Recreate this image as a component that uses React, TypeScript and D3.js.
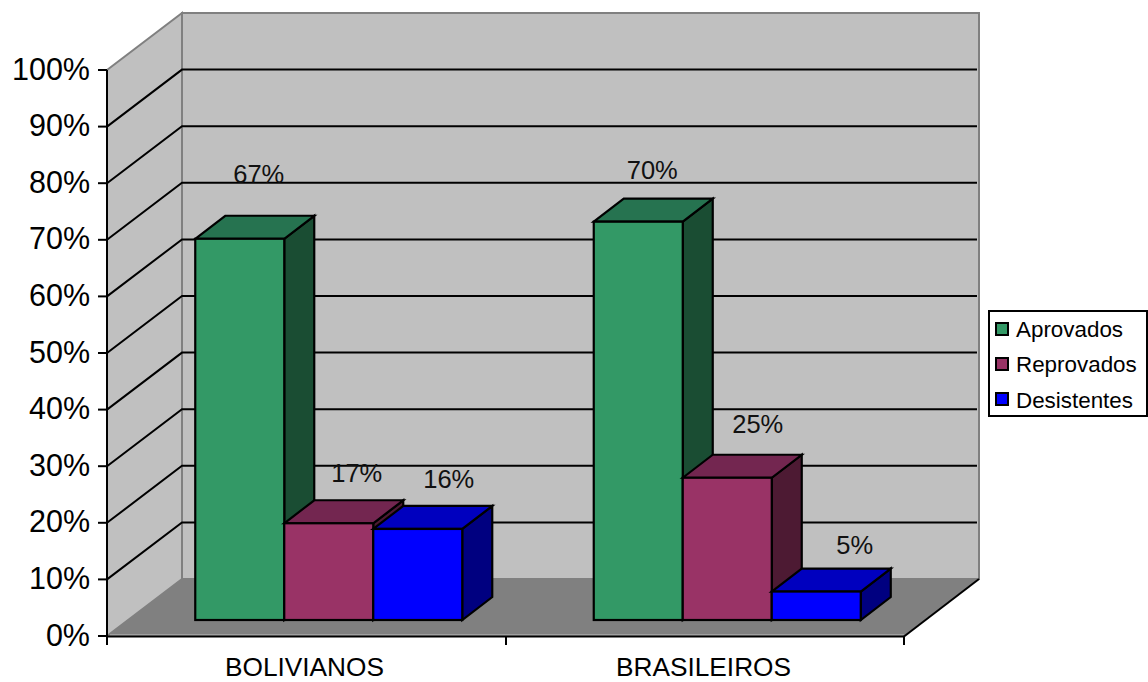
import React from "react";
import * as d3 from "d3";

const categories = ["BOLIVIANOS", "BRASILEIROS"];
const seriesNames = ["Aprovados", "Reprovados", "Desistentes"];
const bolivianos = [67, 17, 16];
const brasileiros = [70, 25, 5];
const yTicks = [0, 10, 20, 30, 40, 50, 60, 70, 80, 90, 100];
const frontColors = ["#339966", "#993366", "#0000ff"];
const topColors = ["#267350", "#732650", "#0000bf"];
const sideColors = ["#1a4d33", "#4d1a33", "#000080"];
// horizontal and vertical offset of each value label from the top of its bar
const labelOffsets = [
  [[19, -56], [28, -41], [31, -41]],
  [[14, -43], [30.5, -45], [38.5, -37.5]],
];
const legendSwatchY = [329, 364, 399];
const legendBaselines = [337, 372, 408];

const FONT = "'Liberation Sans', Arial, sans-serif";
const W = 1148;
const H = 682;
const floorDx = 75;
const floorDy = -57;
const barDx = 30;
const barDy = -23;
const barShiftX = 22.5;
const barBaseY = 620;

const xCat = d3.scaleBand<string>().domain(categories).range([107, 904]);
const yFront = d3.scaleLinear().domain([0, 100]).range([636, 70]);
const yBar = d3.scaleLinear().domain([0, 100]).range([barBaseY, barBaseY - 569]);
const xInner = d3.scaleBand<string>().domain(seriesNames).range([0, 267]);

const poly = (pts: number[][]) => pts.map((p) => p.join(",")).join(" ");
const backLeft = 107 + floorDx;
const backRight = 904 + floorDx;

export default function App() {
  const groups = [bolivianos, brasileiros];
  return (
    <svg
      width={W}
      height={H}
      viewBox={`0 0 ${W} ${H}`}
      style={{ position: "fixed", left: 0, top: 0, background: "#fff" }}
      fontFamily={FONT}
      fill="#000"
    >
      {/* back wall, side wall and floor */}
      <polygon
        points={poly([[backLeft, yFront(100) + floorDy], [backRight, yFront(100) + floorDy], [backRight, yFront(0) + floorDy], [backLeft, yFront(0) + floorDy]])}
        fill="#c0c0c0"
        stroke="#808080"
        strokeWidth={2}
      />
      <polygon
        points={poly([[107, yFront(100)], [backLeft, yFront(100) + floorDy], [backLeft, yFront(0) + floorDy], [107, yFront(0)]])}
        fill="#c0c0c0"
        stroke="#808080"
        strokeWidth={2}
      />
      <polygon
        points={poly([[107, yFront(0)], [backLeft, yFront(0) + floorDy], [backRight, yFront(0) + floorDy], [904, yFront(0)]])}
        fill="#808080"
      />
      <line x1={110} x2={904} y1={635} y2={635} stroke="#c0c0c0" strokeWidth={1} />

      {/* gridlines run along the side wall and across the back wall */}
      {yTicks.filter((t) => t > 0 && t < 100).map((t) => (
        <polyline
          key={t}
          points={poly([[107, yFront(t)], [backLeft, yFront(t) + floorDy], [backRight - 2, yFront(t) + floorDy]])}
          fill="none"
          stroke="#000"
          strokeWidth={2}
        />
      ))}

      {/* axes */}
      <line x1={107} x2={107} y1={yFront(100)} y2={645} stroke="#000" strokeWidth={2} />
      <line x1={107} x2={904} y1={636.5} y2={636.5} stroke="#000" strokeWidth={2} />
      <line x1={904} x2={979} y1={636.5} y2={yFront(0) + floorDy} stroke="#000" strokeWidth={2} />
      {yTicks.map((t) => (
        <g key={t}>
          <line x1={98} x2={107} y1={yFront(t)} y2={yFront(t)} stroke="#000" strokeWidth={2} />
          <text x={90} y={yFront(t) + 9.5} textAnchor="end" fontSize={30.5}>{`${t}%`}</text>
        </g>
      ))}
      {[107, 506, 904].map((x) => (
        <line key={x} x1={x} x2={x} y1={636} y2={645} stroke="#000" strokeWidth={2} />
      ))}
      {categories.map((c, i) => (
        <text key={c} x={[304.5, 703.5][i]} y={676} textAnchor="middle" fontSize={25} textLength={[159, 175][i]} lengthAdjust="spacingAndGlyphs">
          {c}
        </text>
      ))}

      {/* bars with their 3-D top and side faces */}
      {categories.map((c, gi) =>
        seriesNames.map((s, si) => {
          const v = groups[gi][si];
          const center = xCat(c)! + xCat.bandwidth() / 2 + barShiftX;
          const x0 = center - 133.5 + xInner(s)!;
          const x1 = x0 + xInner.bandwidth();
          const yT = yBar(v);
          const yB = yBar(0);
          return (
            <g key={s + c} stroke="#000" strokeWidth={2.2} strokeLinejoin="miter">
              <polygon points={poly([[x1, yT], [x1 + barDx, yT + barDy], [x1 + barDx, yB + barDy], [x1, yB]])} fill={sideColors[si]} />
              <polygon points={poly([[x0, yT], [x0 + barDx, yT + barDy], [x1 + barDx, yT + barDy], [x1, yT]])} fill={topColors[si]} />
              <rect x={x0} y={yT} width={x1 - x0} height={yB - yT} fill={frontColors[si]} />
            </g>
          );
        })
      )}

      {/* value labels */}
      {categories.map((c, gi) =>
        seriesNames.map((s, si) => {
          const v = groups[gi][si];
          const center = xCat(c)! + xCat.bandwidth() / 2 + barShiftX;
          const mid = center - 133.5 + xInner(s)! + xInner.bandwidth() / 2;
          const [nx, ny] = labelOffsets[gi][si];
          return (
            <text key={s + c} x={mid + nx} y={yBar(v) + ny} textAnchor="middle" fontSize={25.5} fill="#111">
              {`${v}%`}
            </text>
          );
        })
      )}

      {/* legend */}
      <rect x={989} y={311} width={158} height={105} fill="#fff" stroke="#000" strokeWidth={2} />
      {seriesNames.map((s, i) => (
        <g key={s}>
          <rect x={996} y={legendSwatchY[i] - 6} width={12} height={12} fill={frontColors[i]} stroke="#000" strokeWidth={2} />
          <text x={1016} y={legendBaselines[i]} fontSize={22.4}>{s}</text>
        </g>
      ))}
    </svg>
  );
}
